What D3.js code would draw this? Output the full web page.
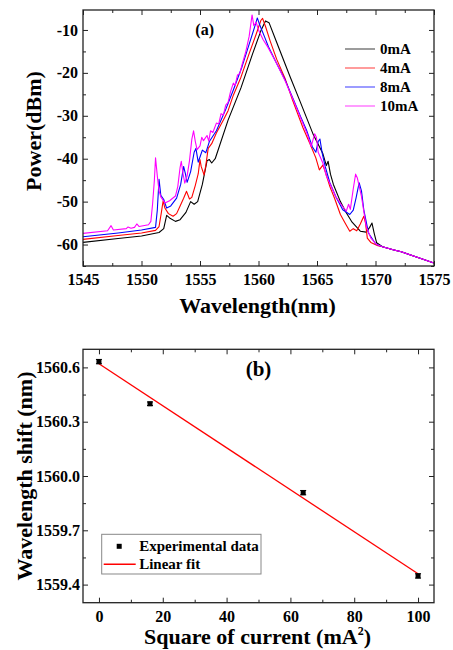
<!DOCTYPE html>
<html>
<head>
<meta charset="utf-8">
<script src="https://cdn.jsdelivr.net/npm/d3@7"></script>
<style>
  body { margin: 0; background: #fff; }
  text { font-family: "Liberation Serif", "Times New Roman", serif; font-weight: bold; fill: #000; }
  .tick text { font-family: "Liberation Serif", "Times New Roman", serif !important; font-weight: bold !important; }
</style>
</head>
<body>
<script>
// ---- panel (a): spectra, [wavelength nm, power dBm]
const tail = [[1570.6, -60.5], [1571.5, -61.2], [1572.2, -61.7], [1573.5, -62.9], [1575, -64.3]];

const spec0 = [[1545, -59.5], [1548, -58.6], [1550, -58.0], [1551.5, -57.2], [1551.9, -56.3], [1552.15, -53.2],
  [1552.4, -53.8], [1552.9, -54.6], [1553.3, -54.2], [1553.8, -52.5], [1554.2, -50.0], [1554.5, -50.6],
  [1554.8, -50.0], [1555.2, -46.0], [1555.6, -40.5], [1555.8, -40.2], [1556.0, -41.0], [1556.3, -40.0],
  [1557.4, -31.0], [1558.5, -23.5], [1559.5, -15.5], [1560.2, -10.2], [1560.6, -7.9], [1560.9, -8.3],
  [1561.5, -12.5], [1562.7, -20.9], [1563.5, -26.3], [1564.7, -34.5], [1565.5, -38.8], [1565.8, -41.6],
  [1565.95, -40.6], [1566.15, -43.6], [1566.4, -46.0], [1567.0, -50.0], [1567.5, -52.6], [1568.0, -54.8],
  [1568.7, -56.9], [1569.2, -57.1], [1569.5, -56.0], [1569.7, -55.0], [1569.9, -57.5], [1570.1, -59.6]];

const spec4 = [[1545, -58.8], [1548, -57.9], [1550, -57.3], [1551.2, -56.7], [1551.5, -55.8], [1551.7, -52.5],
  [1551.85, -49.8], [1552.0, -51.5], [1552.3, -52.8], [1552.7, -53.4], [1553.0, -52.8], [1553.3, -51.0],
  [1553.6, -49.2], [1553.85, -47.6], [1554.1, -49.4], [1554.3, -49.0], [1554.6, -46.2], [1554.85, -43.5],
  [1555.0, -40.2], [1555.1, -41.8], [1555.35, -43.8], [1555.5, -41.5], [1555.7, -37.6], [1556.0, -36.5],
  [1556.4, -34.0], [1557.0, -31.0], [1557.4, -28.8], [1557.85, -25.2], [1558.5, -21.0], [1559.2, -15.5],
  [1559.8, -11.0], [1560.2, -7.8], [1560.35, -7.3], [1560.6, -9.2], [1561.0, -12.6], [1561.55, -16.8],
  [1562.3, -21.5], [1562.9, -26.3], [1563.8, -32.8], [1564.4, -36.5], [1564.9, -39.8], [1565.2, -42.6],
  [1565.5, -41.5], [1565.7, -43.0], [1566.1, -46.5], [1566.5, -49.2], [1567.0, -53.0], [1567.4, -55.0],
  [1567.8, -56.9], [1568.1, -56.3], [1568.4, -56.8], [1568.7, -55.2], [1569.0, -53.4], [1569.15, -55.0],
  [1569.3, -58.5], [1569.6, -59.5], [1570.2, -60.3]];

const spec8 = [[1545, -58.2], [1548, -57.3], [1550, -56.6], [1551.2, -56.0], [1551.35, -52.0], [1551.5, -44.8],
  [1551.65, -48.5], [1551.9, -49.5], [1552.15, -51.5], [1552.5, -51.0], [1553.0, -49.2], [1553.35, -46.0],
  [1553.6, -41.8], [1553.75, -43.5], [1553.9, -45.5], [1554.2, -43.0], [1554.5, -38.5], [1554.65, -37.6],
  [1554.85, -40.8], [1555.0, -39.6], [1555.2, -38.0], [1555.5, -38.6], [1555.8, -36.0], [1556.4, -33.5],
  [1557.2, -28.5], [1557.85, -24.0], [1558.6, -18.5], [1559.3, -12.5], [1559.75, -8.6], [1559.9, -7.2],
  [1560.1, -8.8], [1560.5, -11.5], [1560.85, -13.9], [1561.5, -17.5], [1562.3, -21.8], [1563.0, -26.3],
  [1563.6, -30.2], [1564.1, -33.3], [1564.6, -37.2], [1564.9, -38.5], [1565.1, -36.0], [1565.25, -35.4],
  [1565.45, -38.8], [1565.7, -41.8], [1566.1, -45.6], [1566.6, -48.8], [1567.2, -51.9], [1567.8, -53.0],
  [1568.1, -52.0], [1568.35, -49.0], [1568.6, -45.6], [1568.8, -47.5], [1569.0, -51.9], [1569.4, -57.3],
  [1570.0, -59.8], [1570.3, -60.2]];

const spec10 = [[1545, -57.4], [1547.1, -56.8], [1547.4, -55.6], [1547.6, -56.6], [1548.7, -56.3], [1548.85, -55.9],
  [1549.1, -56.2], [1549.4, -56.0], [1549.6, -55.2], [1549.8, -55.8], [1550.6, -55.4], [1550.8, -54.6],
  [1550.95, -50.5], [1551.1, -45.0], [1551.2, -39.8], [1551.35, -44.0], [1551.5, -47.5], [1551.65, -48.9],
  [1552.0, -50.3], [1552.4, -49.8], [1552.9, -48.7], [1553.1, -46.5], [1553.3, -42.0], [1553.4, -40.6],
  [1553.55, -43.5], [1553.7, -45.7], [1553.9, -44.0], [1554.1, -40.5], [1554.3, -35.5], [1554.45, -33.5],
  [1554.6, -36.0], [1554.75, -37.9], [1555.0, -37.0], [1555.15, -35.0], [1555.3, -35.8], [1555.6, -34.6],
  [1555.75, -35.9], [1555.9, -33.5], [1556.1, -33.9], [1556.4, -31.7], [1556.6, -31.9], [1556.8, -29.5],
  [1557.0, -29.8], [1557.2, -27.5], [1557.4, -26.9], [1557.6, -24.5], [1557.85, -22.4], [1558.0, -22.9],
  [1558.2, -20.5], [1558.4, -20.2], [1558.6, -18.0], [1558.9, -15.2], [1559.2, -11.5], [1559.35, -8.5],
  [1559.45, -6.5], [1559.6, -9.0], [1559.8, -8.2], [1560.0, -10.0], [1560.4, -12.3], [1560.8, -14.0],
  [1561.5, -17.5], [1562.3, -22.0], [1563.0, -26.5], [1563.6, -30.5], [1564.2, -34.5], [1564.5, -37.2],
  [1564.8, -34.2], [1564.95, -35.0], [1565.1, -38.5], [1565.5, -41.0], [1565.8, -44.0], [1566.1, -45.8],
  [1566.6, -48.8], [1567.2, -51.2], [1567.5, -52.2], [1567.7, -50.6], [1567.85, -51.8], [1568.1, -47.0],
  [1568.3, -43.6], [1568.45, -44.5], [1568.8, -48.8], [1569.2, -55.7], [1569.6, -58.5], [1570.1, -60.0]];

const seriesNames = ['0mA', '4mA', '8mA', '10mA'];
const seriesColors = ['#000000', '#ff0000', '#0000ff', '#ff00ff'];
const seriesData = [spec0, spec4, spec8, spec10].map(s => s.concat(tail));

const xTicksA = [1545, 1550, 1555, 1560, 1565, 1570, 1575];
const yTicksA = [-60, -50, -40, -30, -20, -10];

// ---- panel (b): peak wavelength vs square of current
const currentSq = [0, 16, 64, 100];
const peakWl = [1560.632, 1560.399, 1559.908, 1559.448];
const peakErr = [0.012, 0.010, 0.012, 0.012];
const fitX = [0, 100];
const fitY = [1560.62, 1559.46];
const xTicksB = [0, 20, 40, 60, 80, 100];
const yTicksB = [1559.4, 1559.7, 1560.0, 1560.3, 1560.6];

const FONT = '"Liberation Serif", "Times New Roman", serif';

const svg = d3.select('body').append('svg')
  .attr('width', 453)
  .attr('height', 650);

function frameAxes(g, x, y, w, h, xMajor, xMinor, yMajor, yMinor, xFmt, yFmt, yPad) {
  g.append('g').attr('transform', `translate(0,${h})`)
    .call(d3.axisBottom(x).tickValues(xMajor).tickSize(-5).tickPadding(8).tickFormat(xFmt));
  g.append('g').attr('transform', `translate(0,${h})`)
    .call(d3.axisBottom(x).tickValues(xMinor).tickSize(-3).tickFormat(''));
  g.append('g').call(d3.axisTop(x).tickValues(xMajor).tickSize(-5).tickFormat(''));
  g.append('g').call(d3.axisTop(x).tickValues(xMinor).tickSize(-3).tickFormat(''));
  g.append('g')
    .call(d3.axisLeft(y).tickValues(yMajor).tickSize(-5).tickPadding(yPad).tickFormat(yFmt));
  g.append('g').call(d3.axisLeft(y).tickValues(yMinor).tickSize(-3).tickFormat(''));
  g.append('g').attr('transform', `translate(${w},0)`)
    .call(d3.axisRight(y).tickValues(yMajor).tickSize(-5).tickFormat(''));
  g.append('g').attr('transform', `translate(${w},0)`)
    .call(d3.axisRight(y).tickValues(yMinor).tickSize(-3).tickFormat(''));
  g.selectAll('.domain').remove();
  g.selectAll('.tick line').attr('stroke', '#222').attr('stroke-width', 1);
  g.selectAll('.tick text')
    .attr('font-family', FONT).attr('font-weight', 'bold').attr('font-size', 16)
    .style('font-size', '16px')
    .attr('fill', '#000');
  g.append('rect').attr('width', w).attr('height', h)
    .attr('fill', 'none').attr('stroke', '#222').attr('stroke-width', 1.3);
}

// ---------- panel (a)
const A = { left: 83, top: 10, w: 351, h: 256 };
const gA = svg.append('g').attr('transform', `translate(${A.left},${A.top})`);
const xA = d3.scaleLinear().domain([1545, 1575]).range([0, A.w]);
const yA = d3.scaleLinear().domain([-65, -5.35]).range([A.h, 0]);

const clipA = gA.append('clipPath').attr('id', 'clipA');
clipA.append('rect').attr('width', A.w).attr('height', A.h);

const lineA = d3.line().x(d => xA(d[0])).y(d => yA(d[1]));
gA.append('g').attr('clip-path', 'url(#clipA)')
  .selectAll('path').data(seriesData).enter().append('path')
  .attr('d', lineA)
  .attr('fill', 'none')
  .attr('stroke', (d, i) => seriesColors[i])
  .attr('stroke-width', 1.1)
  .attr('stroke-linejoin', 'round');

frameAxes(gA, xA, yA, A.w, A.h,
  xTicksA, d3.range(1547.5, 1575, 5),
  yTicksA, d3.range(-65, -5, 5).filter(v => v % 10 !== 0),
  d3.format('d'), d => d3.format('d')(d).replace('−', '-'), 5);

gA.append('text').attr('x', xA(1555.4)).attr('y', 25)
  .attr('text-anchor', 'middle').style('font-size', '16px').text('(a)');

const legA = gA.selectAll('.legA').data(seriesNames).enter().append('g')
  .attr('transform', (d, i) => `translate(262,${39 + i * 19})`);
legA.append('line').attr('x1', 0).attr('x2', 30)
  .attr('stroke', (d, i) => seriesColors[i]).attr('stroke-width', 1.3).attr('stroke-opacity', 0.6);
legA.append('text').attr('x', 35).attr('y', 5).style('font-size', '15px').text(d => d);

svg.append('text').attr('x', A.left + A.w / 2 - 1).attr('y', 313)
  .attr('text-anchor', 'middle').style('font-size', '22px').text('Wavelength(nm)');
svg.append('text').attr('transform', `translate(41,${A.top + A.h / 2 - 7}) rotate(-90)`)
  .attr('text-anchor', 'middle').style('font-size', '22px').text('Power(dBm)');

// ---------- panel (b)
const B = { left: 83, top: 349.3, w: 351, h: 253.4 };
const gB = svg.append('g').attr('transform', `translate(${B.left},${B.top})`);
const xB = d3.scaleLinear().domain([-5, 105]).range([0, B.w]);
const yB = d3.scaleLinear().domain([1559.3, 1560.7]).range([B.h, 0]);

frameAxes(gB, xB, yB, B.w, B.h,
  xTicksB, d3.range(10, 100, 20),
  yTicksB, [1559.55, 1559.85, 1560.15, 1560.45],
  d3.format('d'), d3.format('.1f'), 3);

const lineB = d3.line().x(d => xB(d[0])).y(d => yB(d[1]));
gB.append('path').datum(fitX.map((v, i) => [v, fitY[i]]))
  .attr('d', lineB).attr('fill', 'none').attr('stroke', '#ff0000').attr('stroke-width', 1.3);

const pts = currentSq.map((v, i) => ({ x: v, y: peakWl[i], e: peakErr[i] }));
const pg = gB.selectAll('.pt').data(pts).enter().append('g');
pg.append('line')
  .attr('x1', d => xB(d.x)).attr('x2', d => xB(d.x))
  .attr('y1', d => yB(d.y - d.e)).attr('y2', d => yB(d.y + d.e))
  .attr('stroke', '#000').attr('stroke-width', 1);
pg.append('line')
  .attr('x1', d => xB(d.x) - 3).attr('x2', d => xB(d.x) + 3)
  .attr('y1', d => yB(d.y - d.e)).attr('y2', d => yB(d.y - d.e))
  .attr('stroke', '#000');
pg.append('line')
  .attr('x1', d => xB(d.x) - 3).attr('x2', d => xB(d.x) + 3)
  .attr('y1', d => yB(d.y + d.e)).attr('y2', d => yB(d.y + d.e))
  .attr('stroke', '#000');
pg.append('rect')
  .attr('x', d => xB(d.x) - 2.5).attr('y', d => yB(d.y) - 2.5)
  .attr('width', 5).attr('height', 5).attr('fill', '#000');

gB.append('text').attr('x', xB(50)).attr('y', 27)
  .attr('text-anchor', 'middle').style('font-size', '21px').text('(b)');

const legB = gB.append('g').attr('transform', 'translate(18.7,185)');
legB.append('rect').attr('width', 159.3).attr('height', 39.7)
  .attr('fill', '#fff').attr('stroke', '#888').attr('stroke-width', 1);
legB.append('rect').attr('x', 15).attr('y', 9.5).attr('width', 5).attr('height', 5).attr('fill', '#000');
legB.append('text').attr('x', 37.5).attr('y', 17).style('font-size', '15px').text('Experimental data');
legB.append('line').attr('x1', 2).attr('x2', 34).attr('y1', 30).attr('y2', 30)
  .attr('stroke', '#ff0000').attr('stroke-width', 1.5);
legB.append('text').attr('x', 37.5).attr('y', 35).style('font-size', '15px').text('Linear fit');

const xlabB = svg.append('text').attr('x', B.left + B.w / 2 - 1).attr('y', 644)
  .attr('text-anchor', 'middle').style('font-size', '22px');
xlabB.append('tspan').text('Square of current (mA');
xlabB.append('tspan').attr('dy', -9).style('font-size', '12px').text('2');
xlabB.append('tspan').attr('dy', 9).text(')');

svg.append('text').attr('transform', `translate(32,${B.top + B.h / 2}) rotate(-90)`)
  .attr('text-anchor', 'middle').style('font-size', '22px').text('Wavelength shift (nm)');
</script>
</body>
</html>
